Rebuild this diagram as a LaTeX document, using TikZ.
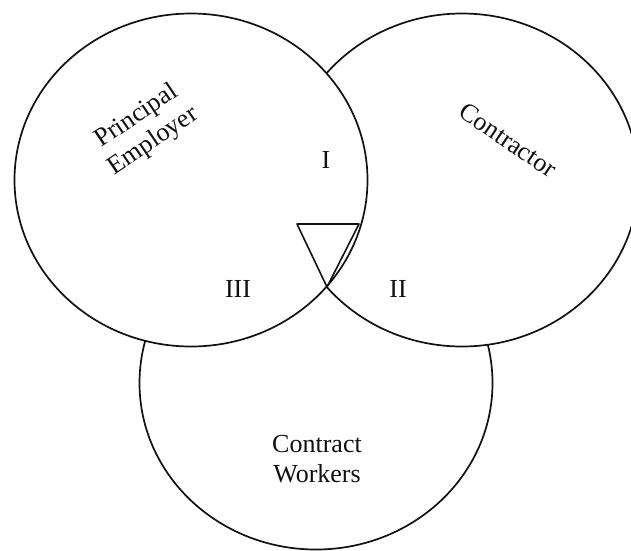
\documentclass[tikz,border=0pt]{standalone}
\usepackage{fontspec}
\setmainfont{Liberation Serif}
\usepackage{xcolor}
\usepackage{tikz}
\usetikzlibrary{calc}
\definecolor{ink}{HTML}{111111}
\definecolor{paper}{HTML}{FFFFFF}
\tikzset{
  base/.style={draw=ink, fill=paper, line width=1.7pt, line join=round},
  edge/.style={draw=ink, line width=1.6pt, line join=round},
  lab/.style={text=ink, font=\fontsize{26}{30}\selectfont, align=center, inner sep=0pt},
}

\begin{document}
\begin{tikzpicture}[x=1pt,y=-1pt]
  \def\rx{176.5}
  \def\ry{166.5}
  \useasboundingbox (0,0) rectangle (631,550);
  \clip (0,0) rectangle (631,550);
  \coordinate (P) at (191,180);
  \coordinate (C) at (462,180);
  \coordinate (W) at (316,383);
  % circles, the lower ones are hidden under the upper ones
  \draw[base] (W) ellipse [x radius=\rx, y radius=\ry];
  \draw[base] (C) ellipse [x radius=\rx, y radius=\ry];
  \draw[base] (P) ellipse [x radius=\rx, y radius=\ry];
  % triangle at the meeting point
  \coordinate (X) at (327,287);
  \coordinate (TL) at (297,224);
  \coordinate (TR) at (359,224);
  \draw[edge] (TL) -- (TR) -- (X) -- cycle;
  % labels
  \node[lab,rotate=34] (pe) at (145,129) {Principal\\Employer};
  \node[lab,rotate=-34] (co) at (508,140) {Contractor};
  \node[lab] (cw) at (317,459) {Contract\\Workers};
  \node[lab] (one) at (326,160) {I};
  \node[lab] (two) at (398,289) {II};
  \node[lab] (three) at (238,289) {III};
\end{tikzpicture}
\end{document}
